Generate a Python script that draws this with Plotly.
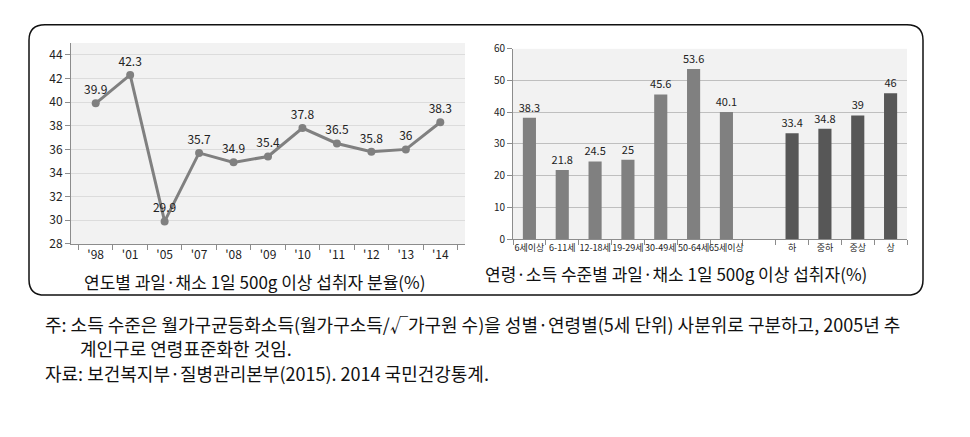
import plotly.graph_objects as go

W, H = 970, 437
FONT = "Noto Sans CJK KR"
OFF = 8  # default page body margin compensation

# Left chart data
years = ["'98", "'01", "'05", "'07", "'08", "'09", "'10", "'11", "'12", "'13", "'14"]
share = [39.9, 42.3, 29.9, 35.7, 34.9, 35.4, 37.8, 36.5, 35.8, 36, 38.3]

# Right chart data
groups = ["6세이상", "6-11세", "12-18세", "19-29세", "30-49세", "50-64세", "65세이상", " ",
          "하", "중하", "중상", "상"]
intake = [38.3, 21.8, 24.5, 25, 45.6, 53.6, 40.1, None, 33.4, 34.8, 39, 46]
bar_colors = ["#808080"] * 8 + ["#575757"] * 4

left_title = "연도별 과일·채소 1일 500g 이상 섭취자 분율(%)"
right_title = "연령·소득 수준별 과일·채소 1일 500g 이상 섭취자(%)"
notes = [
    "주: 소득 수준은 월가구균등화소득(월가구소득/√가구원 수)을 성별·연령별(5세 단위) 사분위로 구분하고, 2005년 추",
    "계인구로 연령표준화한 것임.",
    "자료: 보건복지부·질병관리본부(2015). 2014 국민건강통계.",
]


def px_x(p):
    return (p - OFF) / W


def px_y(p):
    return 1 - (p - OFF) / H


fig = go.Figure()

fig.add_trace(go.Scatter(
    x=years, y=share, mode="lines+markers+text",
    line=dict(color="#808080", width=3),
    marker=dict(color="#808080", size=8),
    text=[f"{v:g}" for v in share], textposition="top center",
    textfont=dict(family=FONT, size=12, color="#222"),
    xaxis="x", yaxis="y", cliponaxis=False, showlegend=False,
))

fig.add_trace(go.Bar(
    x=groups, y=intake, marker=dict(color=bar_colors, line=dict(width=0)),
    width=0.4,
    text=[("" if v is None else f"{v:g}") for v in intake], textposition="outside",
    constraintext="none",
    textfont=dict(family=FONT, size=11, color="#222"),
    xaxis="x2", yaxis="y2", cliponaxis=False, showlegend=False,
))

axis_common = dict(
    showline=True, linecolor="#8c8c8c", linewidth=1,
    ticks="outside", ticklen=5, tickcolor="#8c8c8c",
    tickfont=dict(family=FONT, size=12, color="#222"),
)

small_font = dict(family=FONT, size=9, color="#222")

fig.update_layout(
    width=W, height=H,
    margin=dict(l=0, r=0, t=0, b=0),
    paper_bgcolor="white",
    plot_bgcolor="#f2f2f2",
    font=dict(family=FONT),
    xaxis=dict(domain=[px_x(71), px_x(465)], anchor="y", type="category",
               tickson="boundaries", showgrid=False, tickangle=0, **axis_common),
    yaxis=dict(domain=[px_y(244), px_y(36)], anchor="x", range=[28, 45],
               dtick=2, tick0=28, showgrid=True, gridcolor="#dcdcdc", zeroline=False,
               **axis_common),
    xaxis2=dict(domain=[px_x(513), px_x(907)], anchor="y2", type="category",
                tickson="boundaries", showgrid=False, tickangle=0,
                **{**axis_common, "tickfont": small_font}),
    yaxis2=dict(domain=[px_y(239), px_y(42)], anchor="x2", range=[0, 60],
                dtick=10, showgrid=True, gridcolor="#bfbfbf", zeroline=False,
                **{**axis_common, "tickfont": dict(family=FONT, size=10, color="#222")}),
)

# Outer rounded box
x0, y0, x1, y1, r = 29, 17, 923, 297, 16
path = (f"M {x0+r},{y0} L {x1-r},{y0} Q {x1},{y0} {x1},{y0+r} "
        f"L {x1},{y1-r} Q {x1},{y1} {x1-r},{y1} L {x0+r},{y1} "
        f"Q {x0},{y1} {x0},{y1-r} L {x0},{y0+r} Q {x0},{y0} {x0+r},{y0} Z")


def conv(path):
    out = []
    for tok in path.split():
        if "," in tok:
            a, b = tok.split(",")
            out.append(f"{px_x(float(a)):.5f},{px_y(float(b)):.5f}")
        else:
            out.append(tok)
    return " ".join(out)


fig.add_shape(type="path", path=conv(path), xref="paper", yref="paper",
              line=dict(color="#111", width=1.5), layer="below")

fig.add_annotation(x=px_x(254), y=px_y(283), xref="paper", yref="paper",
                   text=left_title, showarrow=False, xanchor="center", yanchor="middle",
                   font=dict(family=FONT, size=17, color="#111"))
fig.add_annotation(x=px_x(676), y=px_y(275), xref="paper", yref="paper",
                   text=right_title, showarrow=False, xanchor="center", yanchor="middle",
                   font=dict(family=FONT, size=17, color="#111"))

note_pos = [(43, 327), (78, 352), (43, 378)]
for t, (nx, ny) in zip(notes, note_pos):
    fig.add_annotation(x=px_x(nx), y=px_y(ny), xref="paper", yref="paper",
                       text=t, showarrow=False, xanchor="left", yanchor="middle",
                       font=dict(family=FONT, size=18, color="#111"))

fig.write_html("out.html")
